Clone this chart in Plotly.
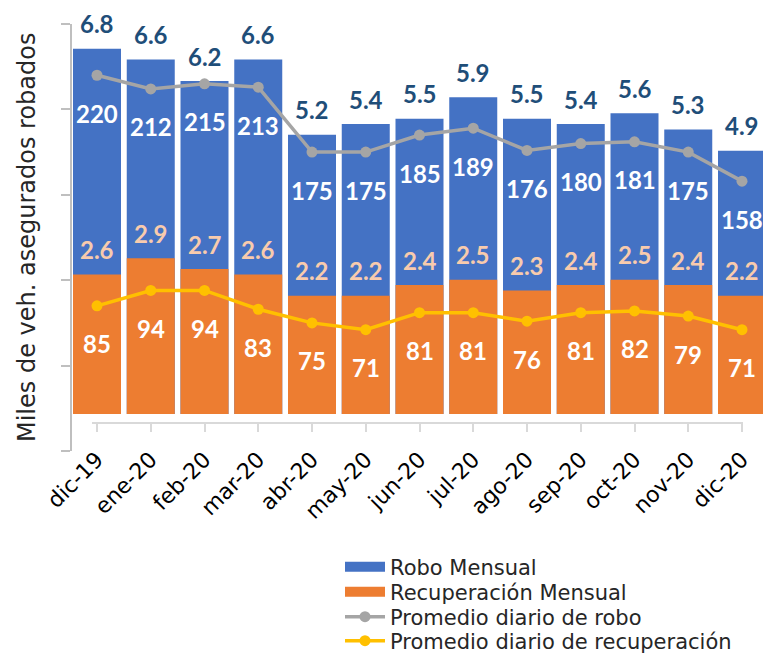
import plotly.graph_objects as go

categories = ["dic-19", "ene-20", "feb-20", "mar-20", "abr-20", "may-20", "jun-20",
              "jul-20", "ago-20", "sep-20", "oct-20", "nov-20", "dic-20"]
robo_mensual = [6.8, 6.6, 6.2, 6.6, 5.2, 5.4, 5.5, 5.9, 5.5, 5.4, 5.6, 5.3, 4.9]
recup_mensual = [2.6, 2.9, 2.7, 2.6, 2.2, 2.2, 2.4, 2.5, 2.3, 2.4, 2.5, 2.4, 2.2]
robo_diario = [220, 212, 215, 213, 175, 175, 185, 189, 176, 180, 181, 175, 158]
recup_diario = [85, 94, 94, 83, 75, 71, 81, 81, 76, 81, 82, 79, 71]
y_title = "Miles de veh. asegurados robados"
names = ["Robo Mensual", "Recuperación Mensual", "Promedio diario de robo",
         "Promedio diario de recuperación"]

BLUE = "#4472c4"
ORANGE = "#ed7d31"
GRAY = "#a5a5a5"
YELLOW = "#ffc000"
DARKBLUE = "#1f4e79"
PEACH = "#f8cbad"
TXT = "DejaVu Sans"
NUM = "Lato"

idx = list(range(len(categories)))

W, H = 763, 653
L, R, T, B = 71, 0, 24, 202
pw = W - L - R
ph = H - T - B


def py(pix):
    # page pixel row -> paper fraction
    return (H - B - pix) / ph


def px(pix):
    return (pix - L) / pw


fig = go.Figure()
fig.add_trace(go.Bar(x=idx, y=robo_mensual, marker=dict(color=BLUE, line=dict(width=0)),
                     showlegend=False, xaxis="x", yaxis="y"))
fig.add_trace(go.Bar(x=idx, y=recup_mensual, marker=dict(color=ORANGE, line=dict(width=0)),
                     showlegend=False, xaxis="x", yaxis="y"))

# legend swatches for the bars
fig.add_trace(go.Scatter(x=[None], y=[None], mode="lines", name=names[0],
                         line=dict(color=BLUE, width=10), legend="legend",
                         xaxis="x", yaxis="y"))
fig.add_trace(go.Scatter(x=[None], y=[None], mode="lines", name=names[1],
                         line=dict(color=ORANGE, width=10), legend="legend2",
                         xaxis="x", yaxis="y"))

fig.add_trace(go.Scatter(x=idx, y=robo_diario, mode="lines+markers", name=names[2],
                         line=dict(color=GRAY, width=3.5), marker=dict(size=11, color=GRAY),
                         cliponaxis=False, legend="legend3", xaxis="x2", yaxis="y2"))
fig.add_trace(go.Scatter(x=idx, y=recup_diario, mode="lines+markers", name=names[3],
                         line=dict(color=YELLOW, width=3.5), marker=dict(size=11, color=YELLOW),
                         cliponaxis=False, legend="legend4", xaxis="x2", yaxis="y2"))

numfont = lambda c: dict(family=NUM, size=24, color=c, weight="bold")
ann = []
for i in idx:
    ann.append(dict(x=i, y=robo_mensual[i], xref="x", yref="y", text=f"{robo_mensual[i]:.1f}",
                    showarrow=False, yshift=25, yanchor="middle", font=numfont(DARKBLUE)))
    ann.append(dict(x=i, y=recup_mensual[i], xref="x", yref="y", text=f"{recup_mensual[i]:.1f}",
                    showarrow=False, yshift=25, yanchor="middle", font=numfont(PEACH)))
    ann.append(dict(x=i, y=robo_diario[i], xref="x2", yref="y2", text=str(robo_diario[i]),
                    showarrow=False, yshift=-38, yanchor="middle", font=numfont("white")))
    ann.append(dict(x=i, y=recup_diario[i], xref="x2", yref="y2", text=str(recup_diario[i]),
                    showarrow=False, yshift=-38, yanchor="middle", font=numfont("white")))
ann.append(dict(x=px(27), y=py(238), xref="paper", yref="paper", text=y_title, textangle=-90,
                showarrow=False, xanchor="center", yanchor="middle",
                font=dict(family=TXT, size=24, color="#262626")))

leg_rows = [567, 592, 617, 641]
legfont = dict(family=TXT, size=21, color="#262626")


def leg(row):
    return dict(x=px(340), y=py(row), xanchor="left", yanchor="middle", font=legfont,
                bgcolor="rgba(0,0,0,0)", itemwidth=40, borderwidth=0)


fig.update_layout(
    template="none",
    width=W, height=H,
    margin=dict(l=L, r=R, t=T, b=B, pad=0, autoexpand=False),
    paper_bgcolor="white", plot_bgcolor="rgba(0,0,0,0)",
    barmode="overlay", bargap=0.107,
    showlegend=True,
    legend=leg(leg_rows[0]), legend2=leg(leg_rows[1]),
    legend3=leg(leg_rows[2]), legend4=leg(leg_rows[3]),
    xaxis=dict(domain=[0, 1], range=[-26 / 53.75, 12 + 21 / 53.75], visible=False,
               anchor="y", automargin=False),
    yaxis=dict(domain=[0, 1], range=[-(451 - 414) / 53.7, (414 - 24) / 53.7], visible=False,
               anchor="x", automargin=False),
    xaxis2=dict(domain=[px(92), px(743)], range=[-5 / 53.75, 12 + 1 / 53.75],
                anchor="free", position=py(423), automargin=False,
                tickmode="array", tickvals=idx, ticktext=categories, tickangle=-45,
                ticks="outside", ticklen=8, tickwidth=2, tickcolor="#d9d9d9",
                ticklabelstandoff=6,
                showline=True, linecolor="#d9d9d9", linewidth=2, showgrid=False, zeroline=False,
                tickfont=dict(family=TXT, size=22, color="#000000")),
    yaxis2=dict(domain=[0, 1], range=[0, 250], anchor="free", position=0, side="left",
                automargin=False,
                tickmode="linear", tick0=0, dtick=50, showticklabels=False,
                ticks="outside", ticklen=9, tickwidth=2, tickcolor="#bfbfbf",
                showline=True, linecolor="#bfbfbf", linewidth=2, showgrid=False, zeroline=False),
    annotations=ann,
)

fig.write_html("out.html", config={"displayModeBar": False},
               post_script="document.body.style.margin='0';document.body.style.overflow='hidden';")
